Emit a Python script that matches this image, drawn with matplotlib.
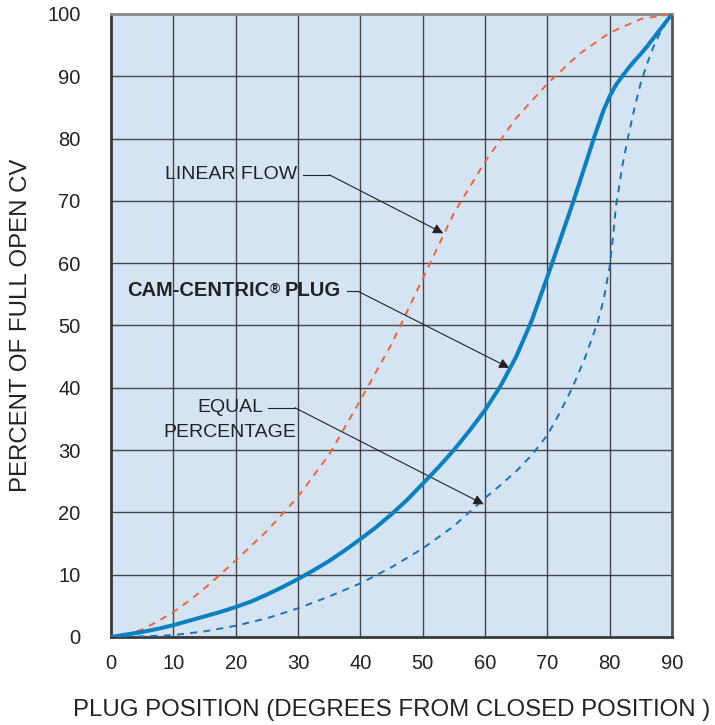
import matplotlib
matplotlib.use("Agg")
import matplotlib.pyplot as plt

plt.rcParams['font.family'] = ['Liberation Sans', 'DejaVu Sans']

# Data
x_ticks = [0, 10, 20, 30, 40, 50, 60, 70, 80, 90]
y_ticks = [0, 10, 20, 30, 40, 50, 60, 70, 80, 90, 100]

linear_x = [0, 2.5, 5, 7.5, 10, 12.5, 15, 17.5, 20, 25, 30, 35, 40, 45, 50, 55, 60, 65, 70, 75, 80, 85, 90]
linear_y = [0, 0.4, 1.2, 2.5, 4, 5.8, 7.8, 10, 12.3, 17, 22.5, 29.3, 38, 47, 57.5, 68, 76.3, 83.3, 88.8, 93.5, 97, 99.2, 100]

cam_x = [0, 2.5, 5, 7.5, 10, 12.5, 15, 17.5, 20, 22.5, 25, 27.5, 30, 32.5, 35, 37.5, 40, 42.5, 45,
         47.5, 50, 52.5, 55, 57.5, 60, 62.5, 65, 67.5, 70, 72, 74, 76, 77.5, 79, 80, 81, 82, 83, 84,
         85, 86, 87, 88, 89, 90]
cam_y = [0, 0.4, 0.8, 1.3, 1.9, 2.6, 3.3, 4.0, 4.8, 5.7, 6.8, 8.0, 9.3, 10.7, 12.2, 13.9, 15.7, 17.6, 19.7,
         22, 24.6, 27.2, 30, 33.1, 36.4, 40.3, 45, 50.8, 57.8, 63.6, 69.4, 75.5, 80.2, 84.5, 86.8, 88.6, 90, 91.3, 92.5,
         93.6, 94.8, 96.1, 97.4, 98.7, 100]

eq_x = [0, 5, 10, 15, 20, 25, 30, 35, 40, 45, 50, 55, 60, 62.5, 65, 67.5, 70, 72, 74, 76, 78, 79, 80, 80.5, 81,
        82, 83, 84, 85, 86, 87, 88, 89, 90]
eq_y = [0, 0.1, 0.3, 0.9, 1.8, 3, 4.6, 6.5, 8.6, 11.2, 14.2, 17.8, 22.3, 24.4, 26.6, 29.2, 32.4, 36, 40, 44.7, 50.3, 54,
        59.5, 64, 69, 75.5, 80.5, 85, 89, 92, 94.7, 96.8, 98.5, 100]

fig = plt.figure(figsize=(7.15, 7.25), dpi=100)
ax = fig.add_axes([0.1552, 0.1214, 0.7847, 0.8593])
ax.set_facecolor('#d5e4f2')

ax.plot(linear_x, linear_y, color='#f0643c', lw=1.4, ls=(0, (3.6, 3.2)), zorder=3)
ax.plot(eq_x, eq_y, color='#1a72bd', lw=1.4, ls=(0, (3.6, 3.2)), zorder=3)
ax.plot(cam_x, cam_y, color='#0a80c0', lw=2.9, solid_capstyle='round', solid_joinstyle='round', zorder=4)

ax.set_xlim(0, 90)
ax.set_ylim(0, 100)
ax.set_xticks(x_ticks)
ax.set_yticks(y_ticks)
ax.tick_params(length=0, labelsize=14.5, colors='#222222')
ax.tick_params(axis='x', pad=12)
ax.tick_params(axis='y', pad=22)
ax.grid(True, color='#2a2a2a', lw=1.0, alpha=0.85)
ax.set_axisbelow(True)
for s in ax.spines.values():
    s.set_color('#3a3a3a')
    s.set_linewidth(2)
ax.spines['top'].set_color('#8a8a8a')
ax.spines['right'].set_color('#555555')

ax.set_xlabel('PLUG POSITION (DEGREES FROM CLOSED POSITION )', fontsize=17.3, color='#222222')
ax.set_ylabel('PERCENT OF FULL OPEN CV', fontsize=17.3, color='#222222')
ax.xaxis.set_label_coords(0.5, -0.099)
ax.yaxis.set_label_coords(-0.140, 0.5)

arrow = dict(arrowstyle='-|>', color='#222222', lw=0.8, mutation_scale=15, shrinkA=0, shrinkB=0)
line = dict(color='#222222', lw=0.8)
fs = 14

# LINEAR FLOW
ax.text(29.85, 74.2, 'LINEAR FLOW', ha='right', va='center', fontsize=fs, color='#222222')
ax.plot([30.8, 35.0], [74.2, 74.2], **line)
ax.annotate('', xy=(53.3, 64.8), xytext=(35.0, 74.2), arrowprops=arrow)

# CAM-CENTRIC PLUG
tP = ax.text(36.8, 55.6, 'PLUG', ha='right', va='center', fontsize=14.5, fontweight='bold', color='#222222')
tR = ax.annotate('®', xy=(0, 0.95), xycoords=tP, xytext=(-3.0, 0), textcoords='offset points',
                 ha='right', va='top', fontsize=10, fontweight='bold', color='#222222')
ax.annotate('CAM-CENTRIC', xy=(0, 0.5), xycoords=(tR, tP), xytext=(-0.3, 0), textcoords='offset points',
            ha='right', va='center', fontsize=14.5, fontweight='bold', color='#222222')
ax.plot([37.9, 39.6], [55.5, 55.5], **line)
ax.annotate('', xy=(63.9, 43.2), xytext=(39.6, 55.5), arrowprops=arrow)

# EQUAL PERCENTAGE
ax.text(19.1, 36.8, 'EQUAL', ha='center', va='center', fontsize=fs, color='#222222')
ax.text(19.1, 32.9, 'PERCENTAGE', ha='center', va='center', fontsize=fs, color='#222222')
ax.plot([25.2, 29.5], [36.8, 36.8], **line)
ax.annotate('', xy=(59.8, 21.3), xytext=(29.5, 36.8), arrowprops=arrow)

fig.savefig('out.png', dpi=100)
